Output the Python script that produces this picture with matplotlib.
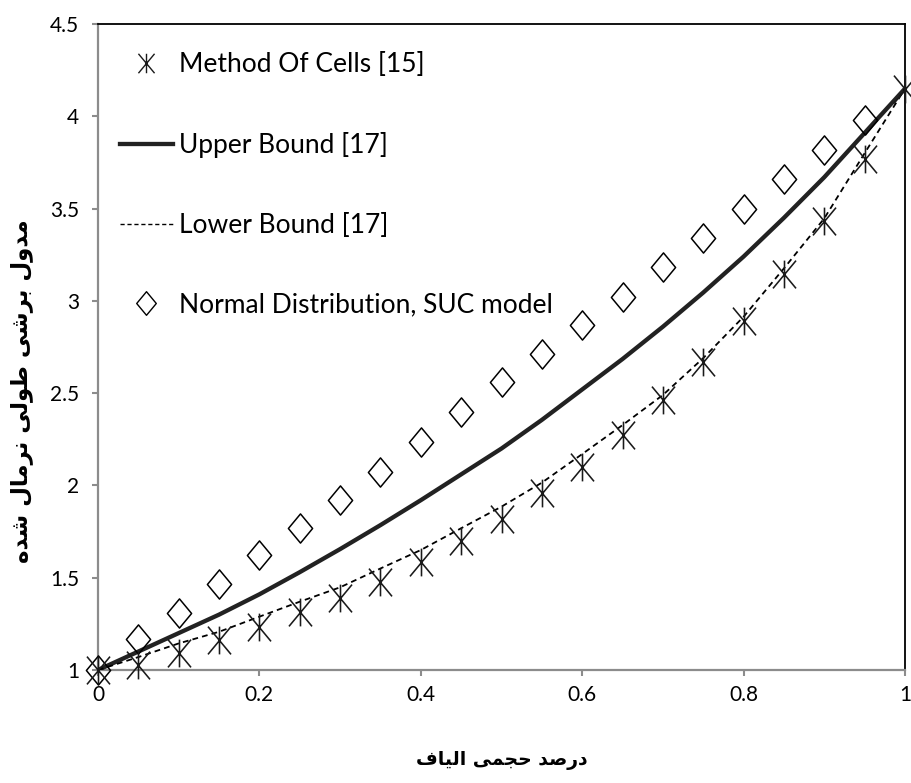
import matplotlib
matplotlib.use("Agg")
import matplotlib.pyplot as plt
from matplotlib.path import Path
from matplotlib.lines import Line2D
from matplotlib.ticker import FormatStrFormatter

# ---------------- data ----------------
x_vals = [0.00, 0.05, 0.10, 0.15, 0.20, 0.25, 0.30, 0.35, 0.40, 0.45, 0.50,
          0.55, 0.60, 0.65, 0.70, 0.75, 0.80, 0.85, 0.90, 0.95, 1.00]
method_of_cells = [1.00, 1.027, 1.09, 1.16, 1.235, 1.316, 1.388, 1.478, 1.587, 1.70, 1.82,
                   1.957, 2.10, 2.273, 2.463, 2.667, 2.89, 3.145, 3.43, 3.766, 4.15]
upper_bound = [1.00, 1.10, 1.20, 1.30, 1.41, 1.53, 1.655, 1.785, 1.92, 2.06, 2.20,
               2.355, 2.52, 2.685, 2.86, 3.045, 3.24, 3.45, 3.67, 3.91, 4.15]
lower_bound = [1.00, 1.07, 1.144, 1.207, 1.289, 1.37, 1.448, 1.55, 1.65, 1.768, 1.885,
               2.015, 2.17, 2.327, 2.49, 2.69, 2.914, 3.176, 3.447, 3.80, 4.15]
x_normal = [0.00, 0.05, 0.10, 0.15, 0.20, 0.25, 0.30, 0.35, 0.40, 0.45,
            0.50, 0.55, 0.60, 0.65, 0.70, 0.75, 0.80, 0.85, 0.90, 0.95]
normal_suc = [1.00, 1.166, 1.307, 1.464, 1.623, 1.767, 1.92, 2.074, 2.233, 2.40,
              2.562, 2.71, 2.87, 3.02, 3.185, 3.342, 3.50, 3.658, 3.817, 3.98]

series_labels = ["Method Of Cells [15]", "Upper Bound [17]", "Lower Bound [17]",
                 "Normal Distribution, SUC model"]
x_ticks = [0, 0.2, 0.4, 0.6, 0.8, 1.0]
y_ticks = [1, 1.5, 2, 2.5, 3, 3.5, 4, 4.5]
x_label = "درصد حجمی الیاف"
y_label = "مدول برشی طولی نرمال شده"

# ---------------- minimal Arabic/Persian shaping ----------------
# forms: (isolated, final, initial, medial); None -> right-joining only
FORMS = {
    "ا": ("\uFE8D", "\uFE8E", None, None),
    "ب": ("\uFE8F", "\uFE90", "\uFE91", "\uFE92"),
    "ج": ("\uFE9D", "\uFE9E", "\uFE9F", "\uFEA0"),
    "ح": ("\uFEA1", "\uFEA2", "\uFEA3", "\uFEA4"),
    "د": ("\uFEA9", "\uFEAA", None, None),
    "ر": ("\uFEAD", "\uFEAE", None, None),
    "ش": ("\uFEB5", "\uFEB6", "\uFEB7", "\uFEB8"),
    "ص": ("\uFEB9", "\uFEBA", "\uFEBB", "\uFEBC"),
    "ط": ("\uFEC1", "\uFEC2", "\uFEC3", "\uFEC4"),
    "ف": ("\uFED1", "\uFED2", "\uFED3", "\uFED4"),
    "ل": ("\uFEDD", "\uFEDE", "\uFEDF", "\uFEE0"),
    "م": ("\uFEE1", "\uFEE2", "\uFEE3", "\uFEE4"),
    "ن": ("\uFEE5", "\uFEE6", "\uFEE7", "\uFEE8"),
    "ه": ("\uFEE9", "\uFEEA", "\uFEEB", "\uFEEC"),
    "و": ("\uFEED", "\uFEEE", None, None),
    "ی": ("\uFEEF", "\uFEF0", "\uFEF3", "\uFEF4"),
}


def shape_rtl(text):
    out_words = []
    for w in text.split(" "):
        glyphs = []
        for i, ch in enumerate(w):
            if ch not in FORMS:
                glyphs.append(ch)
                continue
            prev = w[i - 1] if i > 0 else None
            nxt = w[i + 1] if i < len(w) - 1 else None
            dual = FORMS[ch][2] is not None
            jp = prev is not None and prev in FORMS and FORMS[prev][2] is not None
            jn = dual and nxt is not None and nxt in FORMS
            if jp and jn:
                g = FORMS[ch][3]
            elif jp:
                g = FORMS[ch][1]
            elif jn:
                g = FORMS[ch][2]
            else:
                g = FORMS[ch][0]
            glyphs.append(g)
        out_words.append("".join(reversed(glyphs)))
    return " ".join(reversed(out_words))


# ---------------- markers ----------------
asterisk = Path([(-0.83, -1), (0.83, 1), (-0.83, 1), (0.83, -1), (0, -1), (0, 1)],
                [Path.MOVETO, Path.LINETO, Path.MOVETO, Path.LINETO, Path.MOVETO, Path.LINETO])
diamond = Path([(0, 1), (0.83, 0), (0, -1), (-0.83, 0), (0, 1)],
               [Path.MOVETO, Path.LINETO, Path.LINETO, Path.LINETO, Path.CLOSEPOLY])

W, H = 911, 783
fig = plt.figure(figsize=(W / 100, H / 100), dpi=100)
ax = fig.add_axes([98 / W, 1 - 670 / H, (905 - 98) / W, (670 - 24) / H])

ax.plot(x_vals, upper_bound, color="#222222", lw=3.1, solid_capstyle="round", zorder=3)
ax.plot(x_vals, lower_bound, color="black", lw=1.3, linestyle=(0, (3.2, 2.3)), zorder=3)
ax.plot(x_normal, normal_suc, linestyle="none", marker=diamond, markersize=21,
        mfc="none", mec="black", mew=1.1, clip_on=False, zorder=4)
ax.plot(x_vals, method_of_cells, linestyle="none", marker=asterisk, markersize=20,
        mfc="none", mec="#1a1a1a", mew=1.15, clip_on=False, zorder=4)

ax.set_xlim(0, 1)
ax.set_ylim(1, 4.5)
ax.set_xticks(x_ticks)
ax.set_yticks(y_ticks)
ax.xaxis.set_major_formatter(FormatStrFormatter("%g"))
ax.yaxis.set_major_formatter(FormatStrFormatter("%g"))

gray = "#8c8c8c"
for s in ("left", "bottom"):
    ax.spines[s].set_color(gray)
    ax.spines[s].set_linewidth(1.6)
for s in ("top", "right"):
    ax.spines[s].set_color("black")
    ax.spines[s].set_linewidth(1.3)

ax.tick_params(axis="y", direction="out", length=4.5, width=1.5, color=gray, pad=9,
               labelsize=15)
ax.tick_params(axis="x", direction="out", length=4.5, width=1.5, color=gray, pad=6,
               labelsize=15)
for lab in ax.get_xticklabels() + ax.get_yticklabels():
    lab.set_fontfamily("Lato")

# legend
handles = [
    Line2D([], [], linestyle="none", marker=asterisk, markersize=14, mfc="none",
           mec="#1a1a1a", mew=1.0),
    Line2D([], [], color="#222222", lw=3.1),
    Line2D([], [], color="black", lw=1.0, linestyle=(0, (3, 2))),
    Line2D([], [], linestyle="none", marker=diamond, markersize=17, mfc="none",
           mec="black", mew=1.0),
]
leg = ax.legend(handles, series_labels, loc="upper left",
                bbox_to_anchor=((120 - 98) / (905 - 98), 1 - (52 - 24) / (670 - 24)),
                frameon=False, borderpad=0, borderaxespad=0, handlelength=2.0,
                handletextpad=0.22, labelspacing=2.08,
                prop=dict(family="Lato", size=19))

fig.text(502 / W, 1 - 761 / H, shape_rtl(x_label), ha="center", va="center",
         fontsize=13.5, fontweight="bold", family="DejaVu Sans")
fig.text(22 / W, 1 - 391 / H, shape_rtl(y_label), ha="center", va="center",
         rotation=90, fontsize=16.5, fontweight="bold", family="DejaVu Sans")

fig.savefig("out.png", dpi=100)
